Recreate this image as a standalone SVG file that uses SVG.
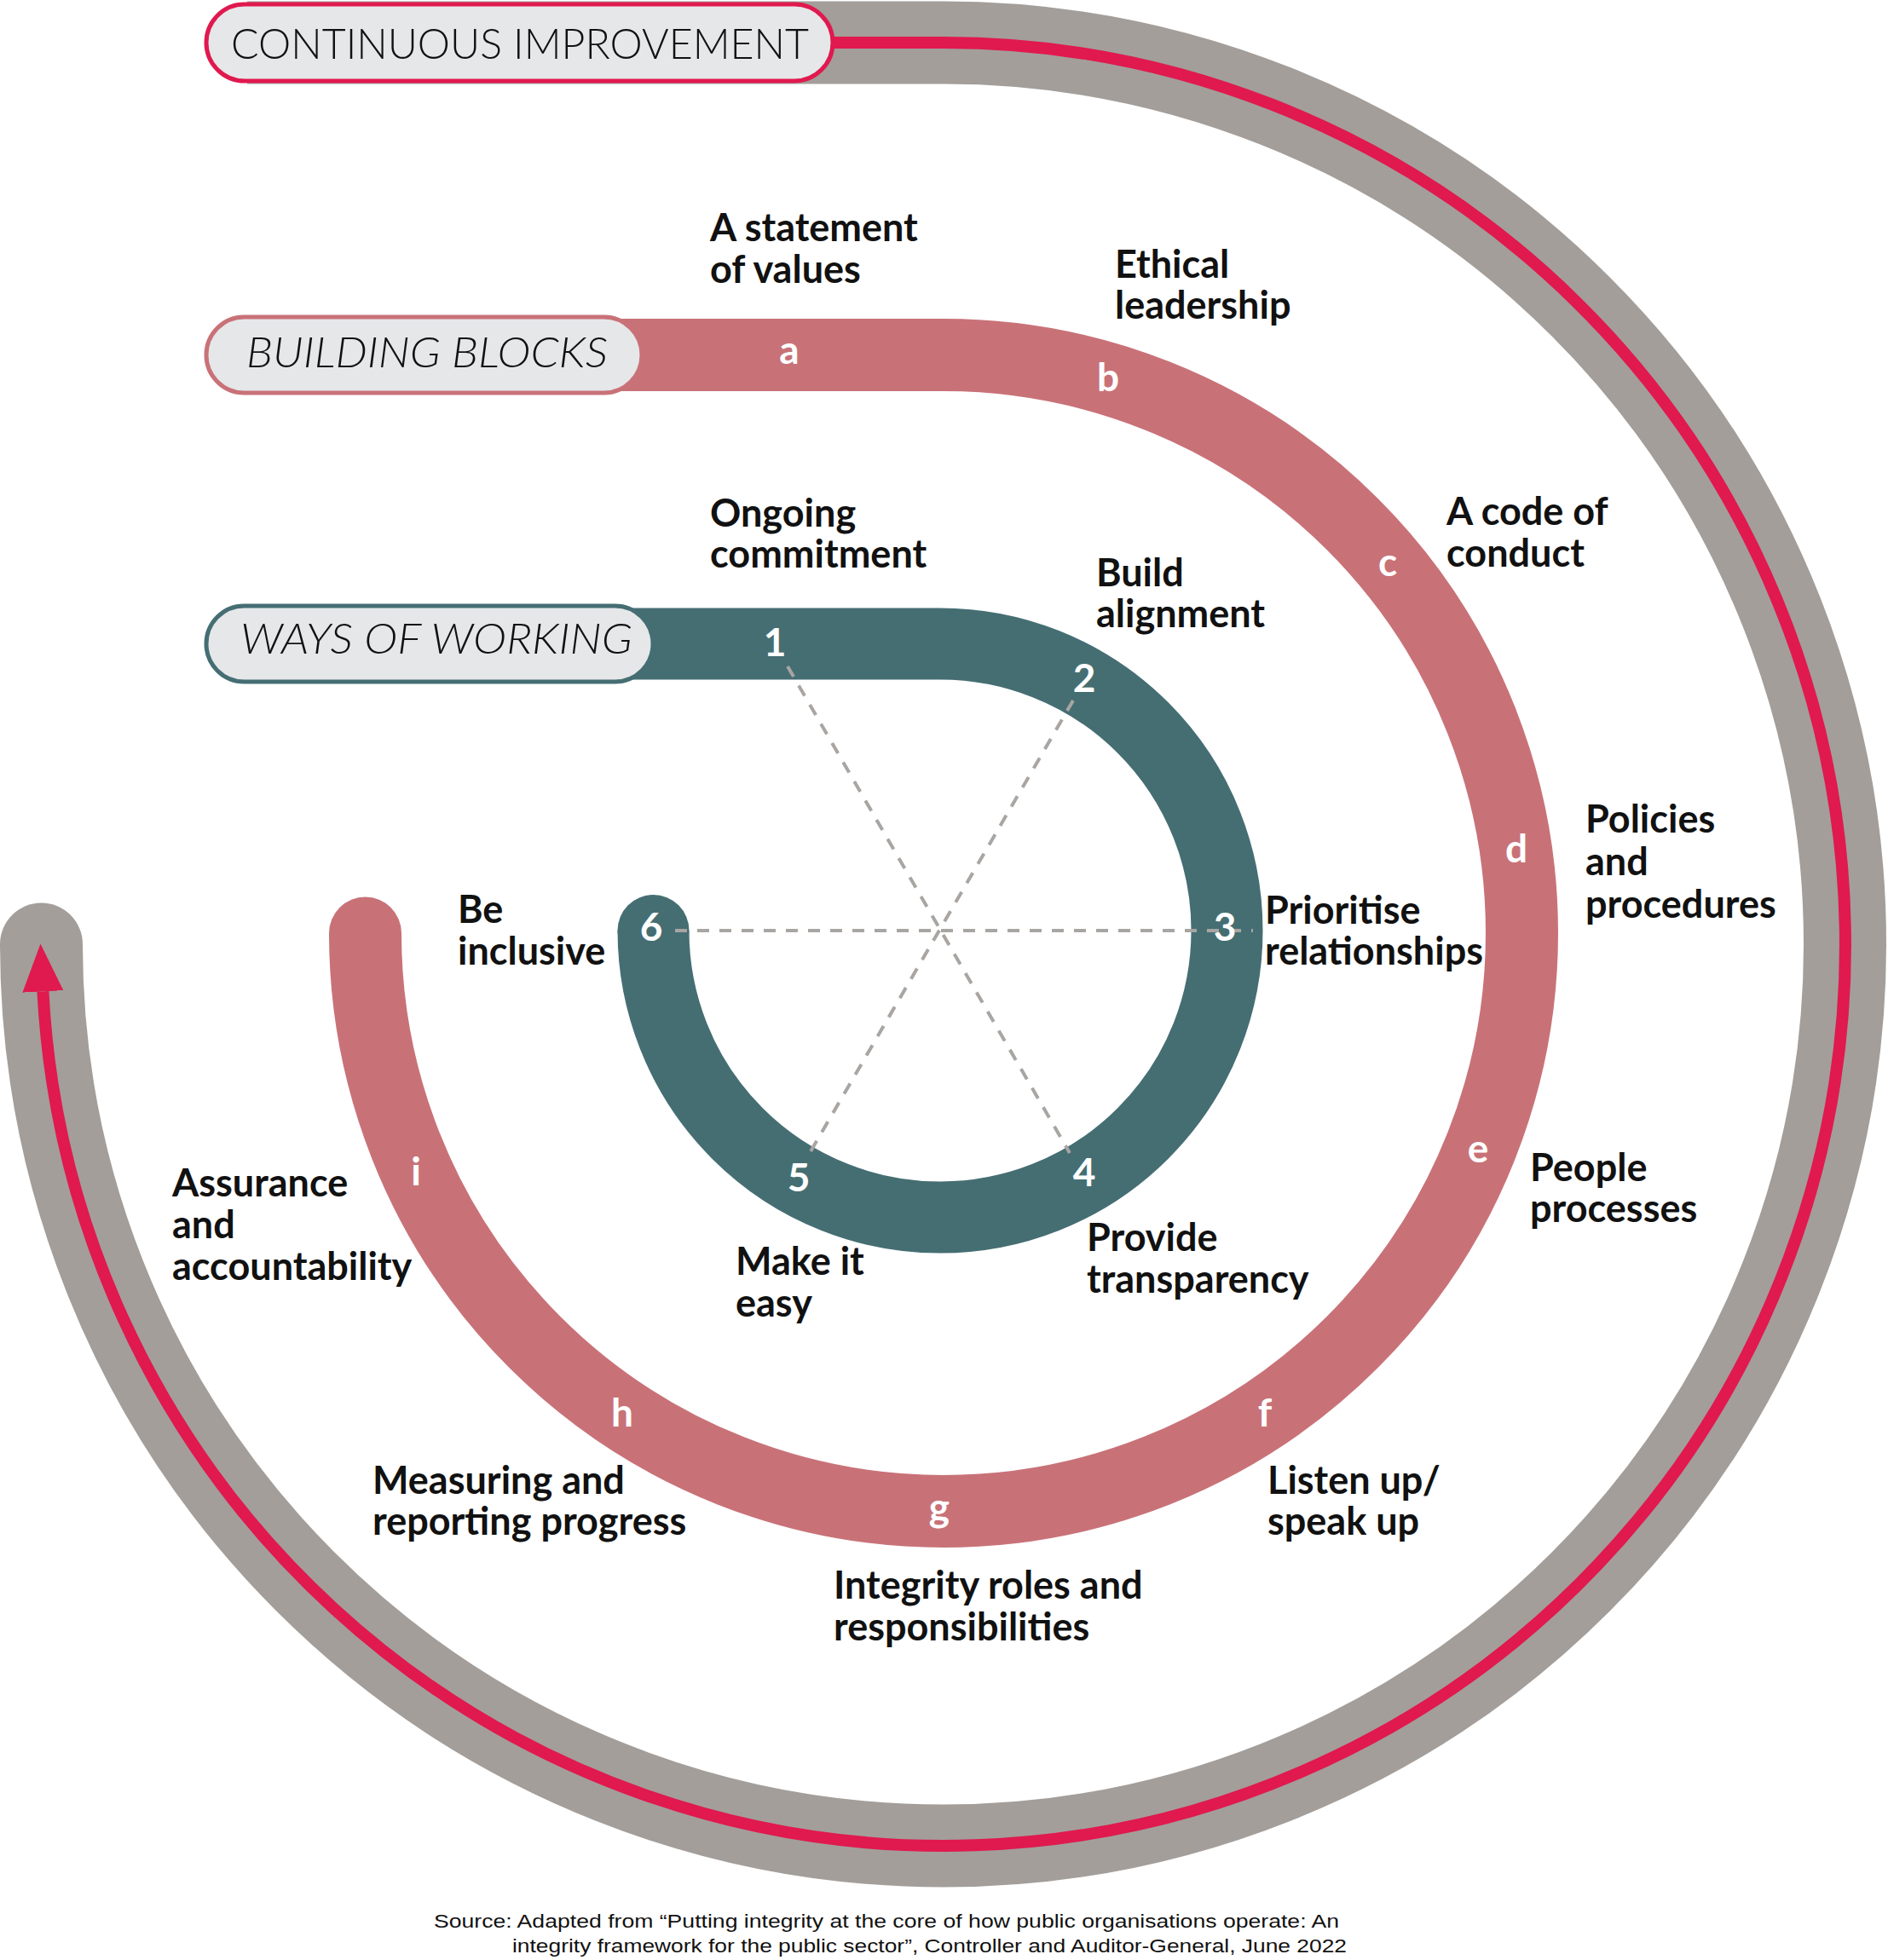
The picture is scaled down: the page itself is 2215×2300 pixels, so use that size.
<svg xmlns="http://www.w3.org/2000/svg" width="2215" height="2300" viewBox="0 0 2215 2300">
<style>
.lbl{font-family:Lato,"Liberation Sans",sans-serif;font-weight:700;font-size:45px;fill:#111}
.mk{font-family:Lato,"Liberation Sans",sans-serif;font-weight:700;font-size:46px;fill:#fff;text-anchor:middle}
.pill{fill:#e6e7e9;stroke-width:5}
.ptxt{font-family:Lato,"Liberation Sans",sans-serif;font-weight:300;font-size:50px;fill:#111}
.dash{stroke:#a8a5a2;stroke-width:4;stroke-dasharray:14 12;fill:none}
.src{font-family:"Liberation Sans",Arial,sans-serif;font-size:22px;fill:#111}
</style>
<defs>
<marker id="arrow" markerUnits="userSpaceOnUse" markerWidth="56" markerHeight="50" refX="0" refY="25" orient="auto">
<path d="M0,1 L56,25 L0,49 z" fill="#e0194f"/>
</marker>
</defs>
<rect width="2215" height="2300" fill="#fff"/>

<g id="continuous-improvement">
<path d="M290 50 H1107 A1058 1058 0 1 1 48.5 1108" fill="none" stroke="#a39e9a" stroke-width="97"/>
<circle cx="48.5" cy="1108" r="48.5" fill="#a39e9a"/>
<path d="M700 50 H1107 A1058 1058 0 1 1 50.4 1163.4" fill="none" stroke="#e0194f" stroke-width="14" marker-end="url(#arrow)"/>
<rect class="pill" x="242" y="5" width="735" height="90" rx="45" stroke="#e0194f"/>
<text class="ptxt" x="271" y="69" textLength="678" lengthAdjust="spacingAndGlyphs">CONTINUOUS IMPROVEMENT</text>
</g>

<g id="building-blocks">
<path d="M300 416.5 H1107 A678.5 678.5 0 1 1 428.5 1095" fill="none" stroke="#c87278" stroke-width="85"/>
<circle cx="428.5" cy="1095" r="42.5" fill="#c87278"/>
<rect class="pill" x="242" y="372" width="511" height="89" rx="44.5" stroke="#c87278"/>
<text class="ptxt" x="289" y="431" font-style="italic" textLength="424" lengthAdjust="spacingAndGlyphs">BUILDING BLOCKS</text>
</g>

<g id="ways-of-working">
<path d="M400 755.5 H1103 A336.5 336.5 0 1 1 766.5 1092" fill="none" stroke="#456e73" stroke-width="84"/>
<circle cx="766.5" cy="1092" r="42" fill="#456e73"/>
<rect class="pill" x="242" y="711" width="524" height="89" rx="44.5" stroke="#456e73"/>
<text class="ptxt" x="282" y="767" font-style="italic" textLength="460" lengthAdjust="spacingAndGlyphs">WAYS OF WORKING</text>
</g>

<g id="connectors">
<line class="dash" x1="924" y1="782" x2="1255" y2="1353"/>
<line class="dash" x1="1259" y1="822" x2="947" y2="1358"/>
<line class="dash" x1="792" y1="1092" x2="1470" y2="1092"/>
</g>

<g id="block-a"><text class="mk" x="926" y="427">a</text>
<text class="lbl" x="833" y="283">A statement<tspan x="833" dy="49">of values</tspan></text></g>
<g id="block-b"><text class="mk" x="1300" y="459">b</text>
<text class="lbl" x="1308" y="326">Ethical<tspan x="1308" dy="48">leadership</tspan></text></g>
<g id="block-c"><text class="mk" x="1628" y="676">c</text>
<text class="lbl" x="1697" y="616">A code of<tspan x="1697" dy="49">conduct</tspan></text></g>
<g id="block-d"><text class="mk" x="1779" y="1012">d</text>
<text class="lbl" x="1860" y="977">Policies<tspan x="1860" dy="50">and</tspan><tspan x="1860" dy="50">procedures</tspan></text></g>
<g id="block-e"><text class="mk" x="1734" y="1364">e</text>
<text class="lbl" x="1795" y="1386">People<tspan x="1795" dy="48">processes</tspan></text></g>
<g id="block-f"><text class="mk" x="1484" y="1674">f</text>
<text class="lbl" x="1487" y="1753">Listen up/<tspan x="1487" dy="48">speak up</tspan></text></g>
<g id="block-g"><text class="mk" x="1102" y="1785">g</text>
<text class="lbl" x="978" y="1876">Integrity roles and<tspan x="978" dy="49">responsibilities</tspan></text></g>
<g id="block-h"><text class="mk" x="730" y="1674">h</text>
<text class="lbl" x="437" y="1753">Measuring and<tspan x="437" dy="48">reporting progress</tspan></text></g>
<g id="block-i"><text class="mk" x="488" y="1391">i</text>
<text class="lbl" x="202" y="1404">Assurance<tspan x="202" dy="49">and</tspan><tspan x="202" dy="49">accountability</tspan></text></g>

<g id="way-1"><text class="mk" x="909" y="770">1</text>
<text class="lbl" x="833" y="618">Ongoing<tspan x="833" dy="48">commitment</tspan></text></g>
<g id="way-2"><text class="mk" x="1272" y="812">2</text>
<text class="lbl" x="1286" y="688">Build<tspan x="1286" dy="48">alignment</tspan></text></g>
<g id="way-3"><text class="mk" x="1437" y="1104">3</text>
<text class="lbl" x="1484" y="1084">Prioritise<tspan x="1484" dy="48">relationships</tspan></text></g>
<g id="way-4"><text class="mk" x="1272" y="1392">4</text>
<text class="lbl" x="1275" y="1468">Provide<tspan x="1275" dy="49">transparency</tspan></text></g>
<g id="way-5"><text class="mk" x="937" y="1398">5</text>
<text class="lbl" x="863" y="1496">Make it<tspan x="863" dy="49">easy</tspan></text></g>
<g id="way-6"><text class="mk" x="764" y="1104">6</text>
<text class="lbl" x="537" y="1083">Be<tspan x="537" dy="49">inclusive</tspan></text></g>

<g id="source">
<text class="src" x="509" y="2262" textLength="1062" lengthAdjust="spacingAndGlyphs">Source: Adapted from “Putting integrity at the core of how public organisations operate: An</text>
<text class="src" x="601" y="2291" textLength="979" lengthAdjust="spacingAndGlyphs">integrity framework for the public sector”, Controller and Auditor-General, June 2022</text>
</g>
</svg>
